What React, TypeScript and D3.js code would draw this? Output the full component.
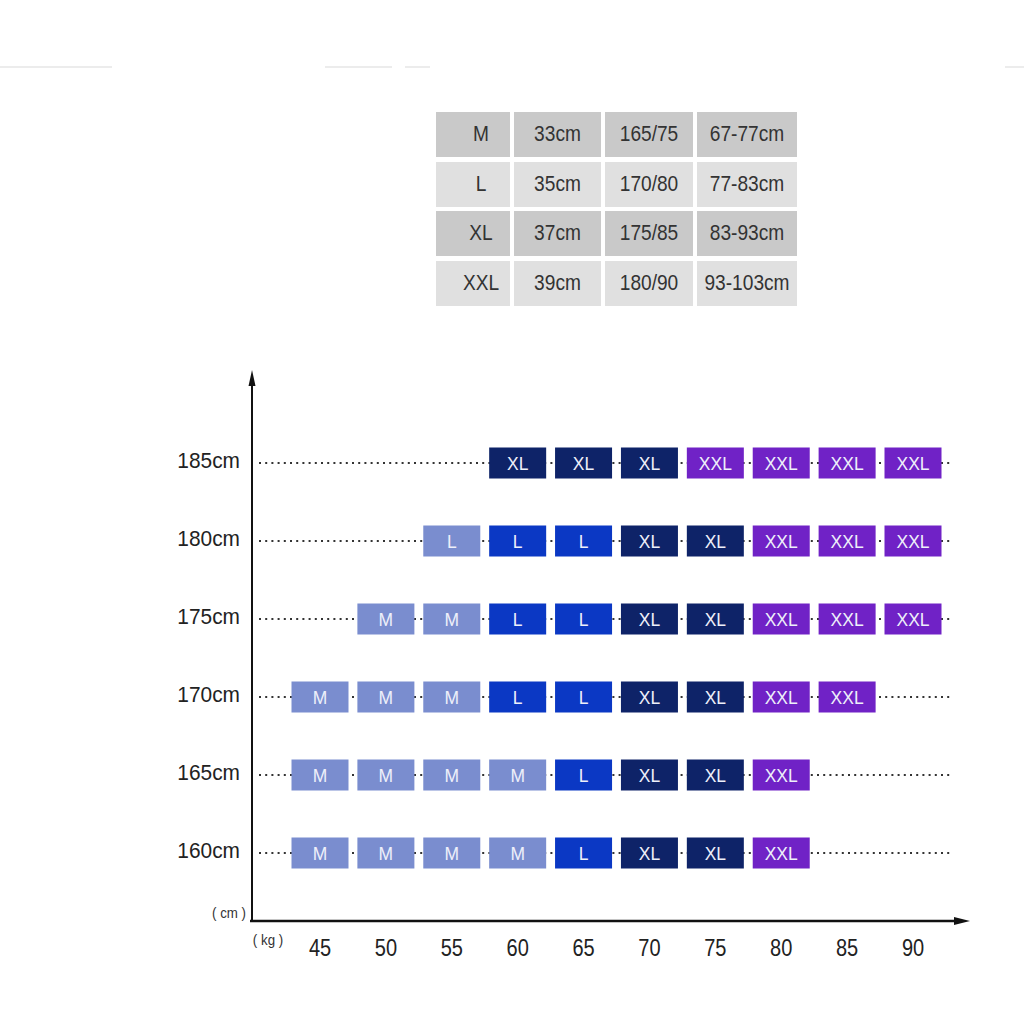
import React from "react";
import * as d3 from "d3";

const tableSizes = ["M", "L", "XL", "XXL"];
const tableLength = ["33cm", "35cm", "37cm", "39cm"];
const tableHeightWeight = ["165/75", "170/80", "175/85", "180/90"];
const tableWaist = ["67-77cm", "77-83cm", "83-93cm", "93-103cm"];

const weights = [45, 50, 55, 60, 65, 70, 75, 80, 85, 90];
const heights = [185, 180, 175, 170, 165, 160];
// size recommended per height row, indexed by weight (null = none). "L*" = light-shade L
const row185 = [null, null, null, "XL", "XL", "XL", "XXL", "XXL", "XXL", "XXL"];
const row180 = [null, null, "L*", "L", "L", "XL", "XL", "XXL", "XXL", "XXL"];
const row175 = [null, "M", "M", "L", "L", "XL", "XL", "XXL", "XXL", "XXL"];
const row170 = ["M", "M", "M", "L", "L", "XL", "XL", "XXL", "XXL", null];
const row165 = ["M", "M", "M", "M", "L", "XL", "XL", "XXL", null, null];
const row160 = ["M", "M", "M", "M", "L", "XL", "XL", "XXL", null, null];
const grid = [row185, row180, row175, row170, row165, row160];

const sizeColor: Record<string, string> = {
  M: "#7a8dcf",
  "L*": "#7a8dcf",
  L: "#0b38c4",
  XL: "#0e2368",
  XXL: "#7022c6",
};

function CText(props: {
  x: number;
  y: number;
  sx?: number;
  anchor?: "start" | "middle" | "end";
  size: number;
  fill: string;
  children: React.ReactNode;
}) {
  const { x, y, sx = 0.87, anchor = "middle", size, fill, children } = props;
  return (
    <text
      transform={`translate(${x},${y}) scale(${sx},1)`}
      textAnchor={anchor}
      dominantBaseline="middle"
      fontSize={size}
      fill={fill}
    >
      {children}
    </text>
  );
}

export default function App() {
  const x = d3.scaleLinear().domain([45, 90]).range([320, 913]);
  const y = d3.scalePoint<number>().domain(heights).range([463, 853]);
  const boxW = 57;
  const boxH = 31;
  const font = "'Liberation Sans', Arial, sans-serif";

  const colX = [436, 514, 605, 697];
  const colW = [74, 87, 88, 100];
  const rowY = [112, 162, 211, 261];
  const rowH = 45;
  const rowFill = ["#c9c9c9", "#e0e0e0", "#c9c9c9", "#e0e0e0"];
  const tableCols = [tableSizes, tableLength, tableHeightWeight, tableWaist];

  return (
    <svg width={1024} height={1024} style={{ position: "absolute", left: 0, top: 0, background: "#fff" }} fontFamily={font}>
      <rect x={0} y={0} width={1024} height={1024} fill="#fff" />
      {/* faint top strokes */}
      {[[0, 112], [325, 392], [405, 430], [1005, 1024]].map(([a, b], i) => (
        <line key={i} x1={a} x2={b} y1={67} y2={67} stroke="#e6e6e6" strokeWidth={1.5} />
      ))}
      {/* size table */}
      {rowY.map((ry, ri) => (
        <g key={ri}>
          {colX.map((cx, ci) => (
            <g key={ci}>
              <rect x={cx} y={ry} width={colW[ci]} height={rowH} fill={rowFill[ri]} />
              <CText x={cx + colW[ci] / 2 + (ci === 0 ? 8 : 0)} y={ry + rowH / 2 + 1} size={22} fill="#333">
                {tableCols[ci][ri]}
              </CText>
            </g>
          ))}
        </g>
      ))}

      {/* axes */}
      <line x1={252} x2={252} y1={378} y2={921} stroke="#111" strokeWidth={2} />
      <path d="M252,370 L248.5,386 L255.5,386 Z" fill="#111" />
      <line x1={250} x2={960} y1={921} y2={921} stroke="#111" strokeWidth={2.5} />
      <path d="M970,921 L954,917 L954,925 Z" fill="#111" />

      {/* dotted guide lines */}
      {heights.map((h) => (
        <line key={h} x1={259} x2={952} y1={y(h)} y2={y(h)} stroke="#333" strokeWidth={2} strokeDasharray="2,4.2" />
      ))}

      {/* y labels */}
      {heights.map((h) => (
        <CText key={h} x={240} y={y(h)! - 1} anchor="end" sx={0.95} size={22} fill="#222">
          {h}cm
        </CText>
      ))}
      <CText x={246} y={914} anchor="end" sx={0.95} size={14} fill="#333">
        ( cm )
      </CText>
      <CText x={268} y={941} sx={0.95} size={14} fill="#333">
        ( kg )
      </CText>

      {/* x labels */}
      {weights.map((w) => (
        <CText key={w} x={x(w)} y={950} size={23} fill="#222">
          {w}
        </CText>
      ))}

      {/* size boxes */}
      {grid.map((row, ri) =>
        row.map((s, wi) =>
          s ? (
            <g key={`${ri}-${wi}`}>
              <rect
                x={x(weights[wi]) - boxW / 2}
                y={y(heights[ri])! - boxH / 2}
                width={boxW}
                height={boxH}
                fill={sizeColor[s]}
              />
              <CText x={x(weights[wi])} y={y(heights[ri])! + 2} sx={0.92} size={19} fill="#eef0fa">
                {s.replace("*", "")}
              </CText>
            </g>
          ) : null
        )
      )}
    </svg>
  );
}
